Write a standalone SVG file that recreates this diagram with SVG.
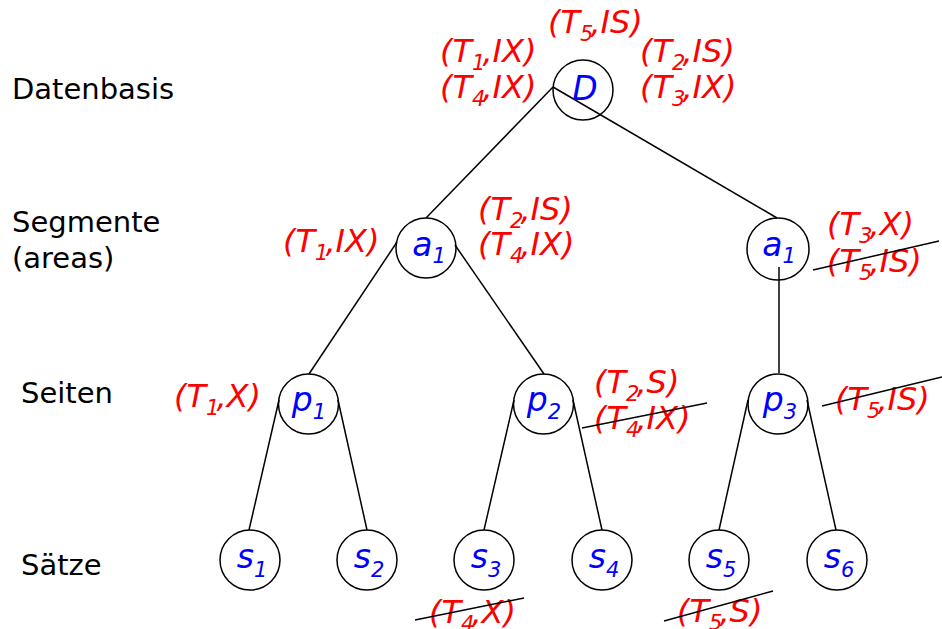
<svg xmlns="http://www.w3.org/2000/svg" width="942" height="629" viewBox="0 0 942 629">
<style>
.node circle{fill:none;stroke:#000;stroke-width:1.5}
.lbl{font-family:"DejaVu Sans",sans-serif;font-style:italic;font-size:33px;fill:#0000ff;text-anchor:middle}
.lbl .sub{font-size:21px}
.lock{font-family:"DejaVu Sans",sans-serif;font-style:italic;font-size:32px;fill:#ff0000}
.lock .sub{font-size:21px}
.lvl{font-family:"DejaVu Sans",sans-serif;font-size:29px;fill:#000}
.edge{stroke:#000;stroke-width:1.5;fill:none}
.strike{stroke:#000;stroke-width:1.5}
</style>
<rect width="942" height="629" fill="#fff"/>
<g id="levels">
<text class="lvl" x="12" y="99">Datenbasis</text>
<text class="lvl" x="12" y="232">Segmente</text>
<text class="lvl" x="12" y="268">(areas)</text>
<text class="lvl" x="21" y="403">Seiten</text>
<text class="lvl" x="21" y="575">Sätze</text>
</g>
<g id="connectors">
<line class="edge" x1="553" y1="87" x2="426" y2="218"/>
<line class="edge" x1="553" y1="87" x2="777" y2="218"/>
<line class="edge" x1="397" y1="242" x2="309" y2="374"/>
<line class="edge" x1="455" y1="245" x2="544" y2="374"/>
<line class="edge" x1="779" y1="267" x2="779" y2="373"/>
<line class="edge" x1="279" y1="400" x2="249" y2="530"/>
<line class="edge" x1="338" y1="400" x2="367" y2="530"/>
<line class="edge" x1="514" y1="400" x2="484" y2="530"/>
<line class="edge" x1="573" y1="400" x2="602" y2="530"/>
<line class="edge" x1="748" y1="400" x2="719" y2="530"/>
<line class="edge" x1="807" y1="400" x2="836" y2="530"/>
</g>
<g id="node-D" class="node"><circle cx="583" cy="90" r="30"/><text class="lbl" x="585" y="100">D</text></g>
<g id="node-a1-left" class="node"><circle cx="426" cy="248" r="30"/><text class="lbl" x="429" y="256">a<tspan class="sub" dy="7">1</tspan></text></g>
<g id="node-a1-right" class="node"><circle cx="778" cy="249" r="31"/><text class="lbl" x="779" y="256">a<tspan class="sub" dy="7">1</tspan></text></g>
<g id="node-p1" class="node"><circle cx="308.5" cy="404" r="30"/><text class="lbl" x="309" y="411">p<tspan class="sub" dy="8">1</tspan></text></g>
<g id="node-p2" class="node"><circle cx="543.5" cy="404" r="30"/><text class="lbl" x="544" y="411">p<tspan class="sub" dy="8">2</tspan></text></g>
<g id="node-p3" class="node"><circle cx="778" cy="404" r="30"/><text class="lbl" x="780" y="411">p<tspan class="sub" dy="8">3</tspan></text></g>
<g id="node-s1" class="node"><circle cx="250" cy="560" r="30"/><text class="lbl" x="252" y="568">s<tspan class="sub" dy="9">1</tspan></text></g>
<g id="node-s2" class="node"><circle cx="367" cy="560" r="30"/><text class="lbl" x="369" y="568">s<tspan class="sub" dy="9">2</tspan></text></g>
<g id="node-s3" class="node"><circle cx="484" cy="560" r="30"/><text class="lbl" x="486" y="568">s<tspan class="sub" dy="9">3</tspan></text></g>
<g id="node-s4" class="node"><circle cx="602" cy="560" r="30"/><text class="lbl" x="604" y="568">s<tspan class="sub" dy="9">4</tspan></text></g>
<g id="node-s5" class="node"><circle cx="719" cy="560" r="30"/><text class="lbl" x="721" y="568">s<tspan class="sub" dy="9">5</tspan></text></g>
<g id="node-s6" class="node"><circle cx="837" cy="560" r="30"/><text class="lbl" x="839" y="568">s<tspan class="sub" dy="9">6</tspan></text></g>
<g id="locks">
<text class="lock" x="548" y="33">(T<tspan class="sub" dy="8">5</tspan><tspan dy="-8" dx="-3">,IS)</tspan></text>
<text class="lock" x="440" y="62">(T<tspan class="sub" dy="8">1</tspan><tspan dy="-8" dx="-3">,IX)</tspan></text>
<text class="lock" x="440" y="98">(T<tspan class="sub" dy="8">4</tspan><tspan dy="-8" dx="-3">,IX)</tspan></text>
<text class="lock" x="640" y="62">(T<tspan class="sub" dy="8">2</tspan><tspan dy="-8" dx="-3">,IS)</tspan></text>
<text class="lock" x="640" y="98">(T<tspan class="sub" dy="8">3</tspan><tspan dy="-8" dx="-3">,IX)</tspan></text>
<text class="lock" x="283" y="252">(T<tspan class="sub" dy="8">1</tspan><tspan dy="-8" dx="-3">,IX)</tspan></text>
<text class="lock" x="478" y="220">(T<tspan class="sub" dy="8">2</tspan><tspan dy="-8" dx="-3">,IS)</tspan></text>
<text class="lock" x="478" y="255">(T<tspan class="sub" dy="8">4</tspan><tspan dy="-8" dx="-3">,IX)</tspan></text>
<text class="lock" x="827" y="235">(T<tspan class="sub" dy="8">3</tspan><tspan dy="-8" dx="-3">,X)</tspan></text>
<text class="lock" x="827" y="272">(T<tspan class="sub" dy="8">5</tspan><tspan dy="-8" dx="-3">,IS)</tspan></text>
<text class="lock" x="174" y="407">(T<tspan class="sub" dy="8">1</tspan><tspan dy="-8" dx="-3">,X)</tspan></text>
<text class="lock" x="594" y="393">(T<tspan class="sub" dy="8">2</tspan><tspan dy="-8" dx="-3">,S)</tspan></text>
<text class="lock" x="594" y="429">(T<tspan class="sub" dy="8">4</tspan><tspan dy="-8" dx="-3">,IX)</tspan></text>
<text class="lock" x="835" y="410">(T<tspan class="sub" dy="8">5</tspan><tspan dy="-8" dx="-3">,IS)</tspan></text>
<text class="lock" x="429" y="623">(T<tspan class="sub" dy="8">4</tspan><tspan dy="-8" dx="-3">,X)</tspan></text>
<text class="lock" x="677" y="622">(T<tspan class="sub" dy="8">5</tspan><tspan dy="-8" dx="-3">,S)</tspan></text>
</g>
<g id="strikes">
<line class="strike" x1="813" y1="270" x2="939" y2="241"/>
<line class="strike" x1="582" y1="428" x2="707" y2="403"/>
<line class="strike" x1="822" y1="406" x2="942" y2="377"/>
<line class="strike" x1="415" y1="620" x2="524" y2="598"/>
<line class="strike" x1="664" y1="621" x2="773" y2="591"/>
</g>
</svg>
